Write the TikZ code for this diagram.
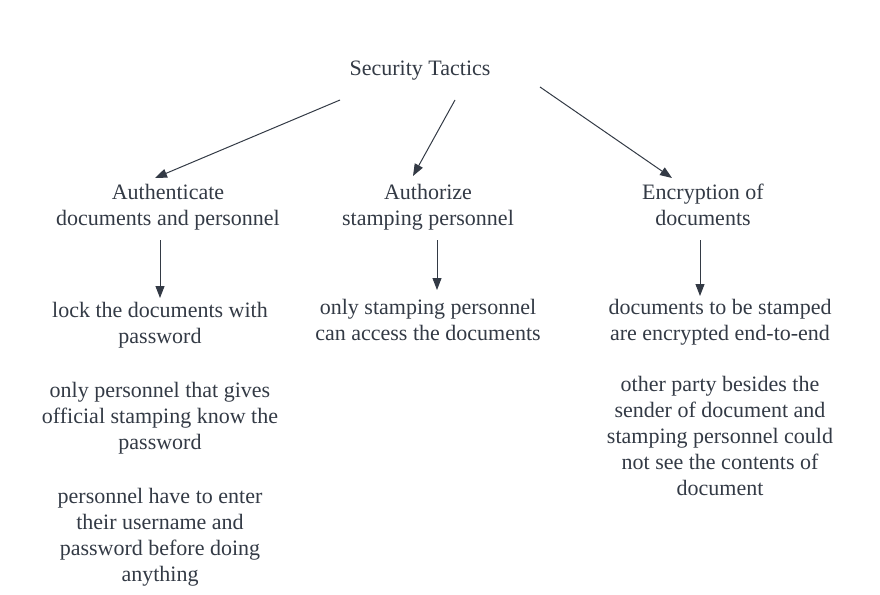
\documentclass[tikz,border=0pt]{standalone}
\usepackage{fontspec}
\setmainfont{Liberation Serif}
\usetikzlibrary{arrows.meta}
\definecolor{ink}{HTML}{333A45}
\begin{document}
\begin{tikzpicture}[x=1pt,y=-1pt,
  txt/.style={text=ink,align=center,inner sep=0pt,font=\fontsize{22}{26}\selectfont},
  conn/.style={draw=ink,line width=1pt,-{Triangle[length=12pt,width=9pt]}}]
\useasboundingbox (0,0) rectangle (880,594);
\node[txt] (title) at (420,71) {Security Tactics};
\node[txt] (auth) at (168,207) {Authenticate\\documents and personnel};
\node[txt] (authz) at (428,207) {Authorize\\stamping personnel};
\node[txt] (enc) at (703,205) {Encryption of\\documents};
\node[txt,anchor=north] (left) at (160,302) {lock the documents with\\password\\[28pt]only personnel that gives\\official stamping know the\\password\\[28pt]personnel have to enter\\their username and\\password before doing\\anything};
\node[txt,anchor=north] (mid) at (428,299) {only stamping personnel\\can access the documents};
\node[txt,anchor=north] (right) at (720,299) {documents to be stamped\\are encrypted end-to-end\\[25pt]other party besides the\\sender of document and\\stamping personnel could\\not see the contents of\\document};
\coordinate (t1) at (340,100);
\coordinate (t2) at (455,100);
\coordinate (t3) at (540,87);
\coordinate (a1) at (155,178);
\coordinate (a2) at (413,176);
\coordinate (a3) at (672,178);
\coordinate (d1s) at (160,240);
\coordinate (d1e) at (160,298);
\coordinate (d2s) at (437,240);
\coordinate (d2e) at (437,290);
\coordinate (d3s) at (700,240);
\coordinate (d3e) at (700,296);
\draw[conn] (t1) -- (a1);
\draw[conn] (t2) -- (a2);
\draw[conn] (t3) -- (a3);
\draw[conn] (d1s) -- (d1e);
\draw[conn] (d2s) -- (d2e);
\draw[conn] (d3s) -- (d3e);
\end{tikzpicture}
\end{document}
